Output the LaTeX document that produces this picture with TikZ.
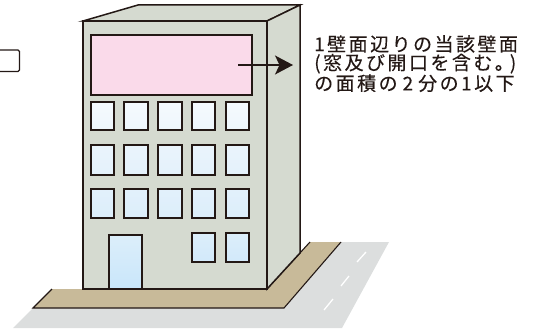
\documentclass[tikz,border=0pt]{standalone}
\usepackage{fontspec}
\newfontfamily\jpfont[LetterSpace=13,FakeBold=0.25]{Noto Sans CJK JP}
\usetikzlibrary{arrows.meta}
\definecolor{ink}{HTML}{231815}
\definecolor{wall}{HTML}{D5DAD0}
\definecolor{pinkpane}{HTML}{FADAEA}
\definecolor{tan}{HTML}{C8BA99}
\definecolor{road}{HTML}{DCDEDE}
\definecolor{halo}{HTML}{8F9088}
\definecolor{glassA}{HTML}{F5FAFE}
\definecolor{glassB}{HTML}{EEF6FC}
\definecolor{glassC}{HTML}{EAF4FC}
\definecolor{glassD}{HTML}{E4F1FB}
\definecolor{glassE}{HTML}{E2F0FB}
\definecolor{glassF}{HTML}{DCEEFA}
\definecolor{glassG}{HTML}{D2E9FA}
\definecolor{glassH}{HTML}{C9E6FA}
\tikzset{
  wallface/.style={fill=wall,draw=ink,line width=1.5pt,line join=miter},
  pane/.style={draw=ink,line width=1.9pt,preaction={draw=halo,line width=2.9pt}},
  win/.style={pane,shade,shading=axis,shading angle=0},
  walk/.style={fill=tan,draw=none},
  walkedge/.style={draw=ink,line width=1.1pt},
  lane/.style={draw=white,line width=1.3pt},
  pointer/.style={draw=ink,line width=1.4pt,-{Stealth[length=18pt,width=19pt,inset=4.5pt]}},
  note/.style={inner sep=0pt,anchor=north west,align=left,font=\jpfont\fontsize{19}{18.6}\selectfont,text=ink},
}
\begin{document}
\begin{tikzpicture}[x=1pt,y=-1pt]
\useasboundingbox (0,0) rectangle (534,329);
% road and pavement
\fill[road] (33,308) -- (13,328) -- (342,328) -- (389,242) -- (341,242) -- (284,308) -- cycle;
\draw[lane] (357,262) -- (366,252);
\draw[lane] (341,286) -- (349,276);
\draw[lane] (324,310) -- (333,299);
\fill[walk] (52,289) -- (33,308) -- (284,308) -- (341,242) -- (310,242) -- (267,289) -- cycle;
\draw[walkedge] (52,289) -- (33,308) -- (284,308) -- (341,242);
\draw[walkedge] (310,242) -- (267,289);
% building
\draw[wallface] (83,21) -- (138,5) -- (300,5) -- (267,21) -- cycle;
\draw[wallface] (267,21) -- (300,5) -- (300,253) -- (267,289) -- cycle;
\draw[wallface] (83,289) -- (83,21) -- (267,21) -- (267,289) -- cycle;
\draw[pane,fill=pinkpane] (91,35) rectangle (252,95);
% windows
\foreach \x/\w in {91/23,124/24,158/24,192/23,226/23}{
  \path[win,top color=glassA,bottom color=glassB] (\x,102) rectangle ++(\w,28);
  \path[win,top color=glassC,bottom color=glassD] (\x,145) rectangle ++(\w,30);
  \path[win,top color=glassE,bottom color=glassF] (\x,189) rectangle ++(\w,29);
}
\foreach \x/\w in {192/23,226/23}{
  \path[win,top color=glassF,bottom color=glassG] (\x,233) rectangle ++(\w,29);
}
\path[win,top color=glassF,bottom color=glassH] (109,235) rectangle (142,289);
\draw[wallface,fill=none] (83,289) -- (267,289);
% stub box at the left edge
\draw[draw=ink,line width=1.1pt,rounded corners=1.5pt] (-3,50) -- (19.5,50) -- (19.5,71.5) -- (-3,71.5);
% label and pointer
\coordinate (from) at (238,65);
\coordinate (to) at (293,65);
\draw[pointer] (from) -- (to);
\node[note] (label) at (314,35) {1壁面辺りの当該壁面\\(窓及び開口を含む。\hspace{-4pt})\\の面積の\hspace{5pt}2\hspace{5pt}分の\hspace{2.5pt}1\hspace{2.5pt}以下};
\end{tikzpicture}
\end{document}
